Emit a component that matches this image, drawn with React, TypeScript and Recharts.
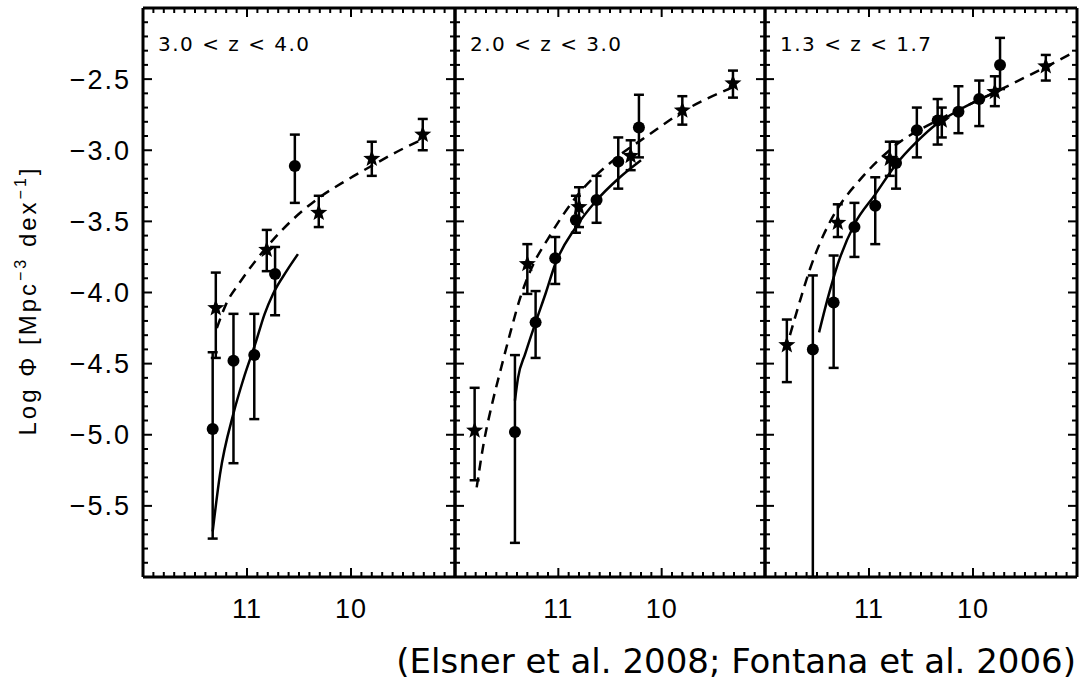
import React from 'react';
import { ComposedChart, Scatter, Line, XAxis, YAxis, ErrorBar } from 'recharts';

// [log M, log Phi, lower end of error bar, upper end of error bar]
type Pt = [number, number, number, number];
type Xy = [number, number];

const PANEL_LABELS = ['3.0 < z < 4.0', '2.0 < z < 3.0', '1.3 < z < 1.7'];
const X_LABELS = [11, 10];
const Y_LABELS = [-2.5, -3.0, -3.5, -4.0, -4.5, -5.0, -5.5];
const SOURCE = '(Elsner et al. 2008; Fontana et al. 2006)';

// 3.0 < z < 4.0
const ELSNER_Z1: Pt[] = [
  [11.33, -4.96, -5.73, -4.42],
  [11.13, -4.48, -5.2, -4.15],
  [10.93, -4.44, -4.89, -4.15],
  [10.73, -3.87, -4.16, -3.68],
  [10.54, -3.11, -3.37, -2.89],
];
const FONTANA_Z1: Pt[] = [
  [11.3, -4.11, -4.46, -3.86],
  [10.81, -3.7, -3.85, -3.56],
  [10.31, -3.44, -3.54, -3.32],
  [9.8, -3.06, -3.18, -2.94],
  [9.31, -2.89, -3.0, -2.78],
];
const FIT_ELSNER_Z1: Xy[] = [
  [11.33, -5.68], [11.26, -5.28], [11.13, -4.85], [11.035, -4.61], [10.92, -4.36],
  [10.83, -4.15], [10.75, -4.01], [10.62, -3.85], [10.51, -3.73],
];
const FIT_FONTANA_Z1: Xy[] = [
  [11.29, -4.25], [11.2, -4.08], [11.07, -3.93], [10.91, -3.77], [10.75, -3.63],
  [10.55, -3.48], [10.3, -3.33], [10.04, -3.21], [9.79, -3.105], [9.53, -3.0], [9.3, -2.92],
];

// 2.0 < z < 3.0
const ELSNER_Z2: Pt[] = [
  [11.42, -4.98, -5.76, -4.44],
  [11.22, -4.21, -4.46, -3.99],
  [11.03, -3.76, -3.94, -3.61],
  [10.83, -3.49, -3.58, -3.32],
  [10.63, -3.35, -3.51, -3.18],
  [10.42, -3.08, -3.27, -2.91],
  [10.22, -2.84, -3.05, -2.61],
];
const FONTANA_Z2: Pt[] = [
  [11.81, -4.97, -5.32, -4.67],
  [11.3, -3.8, -4.01, -3.66],
  [10.8, -3.4, -3.54, -3.26],
  [10.3, -3.04, -3.14, -2.93],
  [9.8, -2.72, -2.82, -2.62],
  [9.31, -2.53, -2.63, -2.44],
];
const FIT_ELSNER_Z2: Xy[] = [
  [11.42, -4.76], [11.39, -4.6], [11.32, -4.43], [11.22, -4.21], [11.12, -4.0],
  [11.03, -3.8], [10.83, -3.54], [10.64, -3.36], [10.42, -3.2], [10.2, -3.07],
];
const FIT_FONTANA_Z2: Xy[] = [
  [11.79, -5.37], [11.72, -5.05], [11.64, -4.78], [11.55, -4.52], [11.46, -4.27],
  [11.37, -4.04], [11.26, -3.83], [11.09, -3.61], [10.83, -3.33], [10.45, -3.06],
  [10.12, -2.89], [9.8, -2.73], [9.32, -2.56],
];

// 1.3 < z < 1.7
const ELSNER_Z3: Pt[] = [
  [11.54, -4.4, -6.0, -3.88],
  [11.34, -4.07, -4.53, -3.74],
  [11.14, -3.54, -3.75, -3.37],
  [10.94, -3.39, -3.66, -3.19],
  [10.74, -3.09, -3.27, -2.94],
  [10.54, -2.86, -3.05, -2.7],
  [10.34, -2.79, -2.96, -2.64],
  [10.14, -2.73, -2.88, -2.55],
  [9.94, -2.64, -2.83, -2.51],
  [9.74, -2.4, -2.57, -2.21],
];
const FONTANA_Z3: Pt[] = [
  [11.79, -4.37, -4.63, -4.19],
  [11.3, -3.51, -3.61, -3.38],
  [10.8, -3.06, -3.18, -2.94],
  [10.3, -2.79, -2.91, -2.7],
  [9.79, -2.59, -2.69, -2.48],
  [9.3, -2.41, -2.51, -2.33],
];
const FIT_ELSNER_Z3: Xy[] = [
  [11.48, -4.28], [11.4, -4.05], [11.3, -3.8], [11.14, -3.52], [10.94, -3.31],
  [10.74, -3.1], [10.54, -2.94], [10.34, -2.81], [10.14, -2.72], [9.94, -2.645], [9.78, -2.59],
];
const FIT_FONTANA_Z3: Xy[] = [
  [11.76, -4.3], [11.66, -4.05], [11.57, -3.84], [11.44, -3.6], [11.31, -3.42],
  [11.09, -3.21], [10.77, -2.98], [10.29, -2.77], [9.81, -2.6], [9.33, -2.425], [9.0, -2.3],
];

const X_TICKS = Array.from({ length: 31 }, (_, i) => (90 + i) / 10);
const Y_TICKS = Array.from({ length: 41 }, (_, i) => (-60 + i) / 10);

const PLOT_TOP = 8;
const PLOT_H = 569;
const AXIS_H = 50;
const CHART_H = 640;
const PANELS = [
  { left: 143, width: 312 },
  { left: 455, width: 310 },
  { left: 765, width: 312 },
];

const TICK_FONT = '"Liberation Sans", Arial, sans-serif';
const LABEL_FONT = '"DejaVu Sans", Verdana, sans-serif';

const near = (a: number, b: number) => Math.abs(a - b) < 1e-6;
const majorX = (v: number) => near(v, Math.round(v));
const majorY = (v: number) => near(v * 2, Math.round(v * 2));

const toPoints = (pts: Pt[]) => pts.map(([x, y, lo, hi]) => ({ x, y, err: [y - lo, hi - y] }));
const toCurve = (pts: Xy[]) => pts.map(([x, y]) => ({ x, y }));

const BottomTick = (props: any) => {
  const { x, y, payload } = props;
  const v = payload.value;
  const show = X_LABELS.some((l) => near(l, v));
  return (
    <g>
      <line x1={x} y1={y} x2={x} y2={y - (majorX(v) ? 9 : 5)} stroke="#000" strokeWidth={2} />
      {show && (
        <text x={x} y={y + 41} textAnchor="middle" fontFamily={TICK_FONT} fontSize={27} letterSpacing={1} fill="#000">
          {v}
        </text>
      )}
    </g>
  );
};

const TopTick = (props: any) => {
  const { x, y, payload } = props;
  return <line x1={x} y1={y} x2={x} y2={y + (majorX(payload.value) ? 9 : 5)} stroke="#000" strokeWidth={2} />;
};

const LeftTick = (props: any) => {
  const { x, y, payload, labels } = props;
  const v = payload.value;
  const show = labels && Y_LABELS.some((l) => near(l, v));
  return (
    <g>
      <line x1={x} y1={y} x2={x + (majorY(v) ? 9 : 5)} y2={y} stroke="#000" strokeWidth={2} />
      {show && (
        <text x={x - 12} y={y + 9.5} textAnchor="end" fontFamily={TICK_FONT} fontSize={27} letterSpacing={2} fill="#000">
          {'\u2212' + Math.abs(v).toFixed(1)}
        </text>
      )}
    </g>
  );
};

const RightTick = (props: any) => {
  const { x, y, payload } = props;
  return <line x1={x} y1={y} x2={x - (majorY(payload.value) ? 9 : 5)} y2={y} stroke="#000" strokeWidth={2} />;
};

const YTitle = (props: any) => {
  const vb = props.viewBox || { x: 10, y: PLOT_TOP, width: 133, height: PLOT_H };
  const cx = vb.x + 26;
  const cy = vb.y + vb.height / 2 + 8;
  return (
    <text
      x={cx}
      y={cy}
      transform={`rotate(-90, ${cx}, ${cy})`}
      textAnchor="middle"
      fontFamily={TICK_FONT}
      fontSize={24}
      letterSpacing={3}
      fill="#000"
    >
      <tspan>Log Φ [Mpc</tspan>
      <tspan dy={-10} fontSize={16}>−3</tspan>
      <tspan dy={10}> dex</tspan>
      <tspan dy={-10} fontSize={16}>−1</tspan>
      <tspan dy={10}>]</tspan>
    </text>
  );
};

const Dot = (props: any) => <circle cx={props.cx} cy={props.cy} r={6} fill="#000" />;

const Star = (props: any) => {
  const { cx, cy } = props;
  let d = '';
  for (let i = 0; i < 10; i++) {
    const rad = i % 2 === 0 ? 9 : 3.8;
    const a = -Math.PI / 2 + (i * Math.PI) / 5;
    d += (i === 0 ? 'M' : 'L') + (cx + rad * Math.cos(a)).toFixed(2) + ',' + (cy + rad * Math.sin(a)).toFixed(2);
  }
  return <path d={d + 'Z'} fill="#000" />;
};

const axisLine = { stroke: '#000', strokeWidth: 3 };

type PanelProps = { idx: number; elsner: Pt[]; fontana: Pt[]; fitE: Xy[]; fitF: Xy[] };

const Panel = ({ idx, elsner, fontana, fitE, fitF }: PanelProps) => {
  const first = idx === 0;
  const last = idx === PANELS.length - 1;
  const { left, width } = PANELS[idx];
  const mLeft = 10;
  const mRight = last ? 3 : 6;
  const yW = first ? 133 : 0;
  const chartW = mLeft + yW + width + mRight;
  return (
    <div style={{ position: 'absolute', left: left - mLeft - yW, top: 0 }}>
      <ComposedChart
        width={chartW}
        height={CHART_H}
        margin={{ top: PLOT_TOP, right: mRight, bottom: CHART_H - PLOT_TOP - PLOT_H - AXIS_H, left: mLeft }}
      >
        <XAxis
          dataKey="x"
          type="number"
          domain={[9, 12]}
          reversed
          allowDataOverflow
          ticks={X_TICKS}
          interval={0}
          height={AXIS_H}
          tickSize={0}
          tickMargin={0}
          tickLine={false}
          axisLine={axisLine}
          tick={BottomTick}
        />
        <XAxis
          xAxisId="top"
          dataKey="x"
          orientation="top"
          mirror
          type="number"
          domain={[9, 12]}
          reversed
          allowDataOverflow
          ticks={X_TICKS}
          interval={0}
          tickSize={0}
          tickMargin={0}
          tickLine={false}
          axisLine={axisLine}
          tick={TopTick}
        />
        <YAxis
          dataKey="y"
          type="number"
          domain={[-6, -2]}
          allowDataOverflow
          ticks={Y_TICKS}
          interval={0}
          width={first ? yW : 60}
          mirror={!first}
          tickSize={0}
          tickMargin={0}
          tickLine={false}
          axisLine={axisLine}
          tick={(p: any) => <LeftTick {...p} labels={first} />}
          label={first ? <YTitle /> : undefined}
        />
        <YAxis
          yAxisId="right"
          dataKey="y"
          orientation="right"
          mirror
          type="number"
          domain={[-6, -2]}
          allowDataOverflow
          ticks={Y_TICKS}
          interval={0}
          tickSize={0}
          tickMargin={0}
          tickLine={false}
          axisLine={axisLine}
          tick={RightTick}
        />
        <Line
          data={toCurve(fitF)}
          dataKey="y"
          type="monotone"
          stroke="#000"
          strokeWidth={2.5}
          strokeDasharray="10 7"
          dot={false}
          activeDot={false}
          isAnimationActive={false}
        />
        <Line
          data={toCurve(fitE)}
          dataKey="y"
          type="monotone"
          stroke="#000"
          strokeWidth={2.5}
          dot={false}
          activeDot={false}
          isAnimationActive={false}
        />
        <Scatter data={toPoints(fontana)} dataKey="y" shape={Star} isAnimationActive={false}>
          <ErrorBar dataKey="err" direction="y" width={5} stroke="#000" strokeWidth={2.5} isAnimationActive={false} />
        </Scatter>
        <Scatter data={toPoints(elsner)} dataKey="y" shape={Dot} isAnimationActive={false}>
          <ErrorBar dataKey="err" direction="y" width={5} stroke="#000" strokeWidth={2.5} isAnimationActive={false} />
        </Scatter>
      </ComposedChart>
      <div
        style={{
          position: 'absolute',
          left: mLeft + yW + 15,
          top: 34,
          fontFamily: LABEL_FONT,
          fontSize: 20,
          lineHeight: '20px',
          letterSpacing: 1.5,
          whiteSpace: 'pre',
          color: '#000',
        }}
      >
        {PANEL_LABELS[idx]}
      </div>
    </div>
  );
};

export default function App() {
  return (
    <div style={{ position: 'absolute', left: 0, top: 0, width: 1081, height: 681, overflow: 'hidden', background: '#fff' }}>
      <Panel idx={0} elsner={ELSNER_Z1} fontana={FONTANA_Z1} fitE={FIT_ELSNER_Z1} fitF={FIT_FONTANA_Z1} />
      <Panel idx={1} elsner={ELSNER_Z2} fontana={FONTANA_Z2} fitE={FIT_ELSNER_Z2} fitF={FIT_FONTANA_Z2} />
      <Panel idx={2} elsner={ELSNER_Z3} fontana={FONTANA_Z3} fitE={FIT_ELSNER_Z3} fitF={FIT_FONTANA_Z3} />
      <div
        style={{
          position: 'absolute',
          right: 5,
          top: 644,
          fontFamily: LABEL_FONT,
          fontSize: 34,
          lineHeight: '34px',
          whiteSpace: 'pre',
          color: '#000',
        }}
      >
        {SOURCE}
      </div>
    </div>
  );
}
